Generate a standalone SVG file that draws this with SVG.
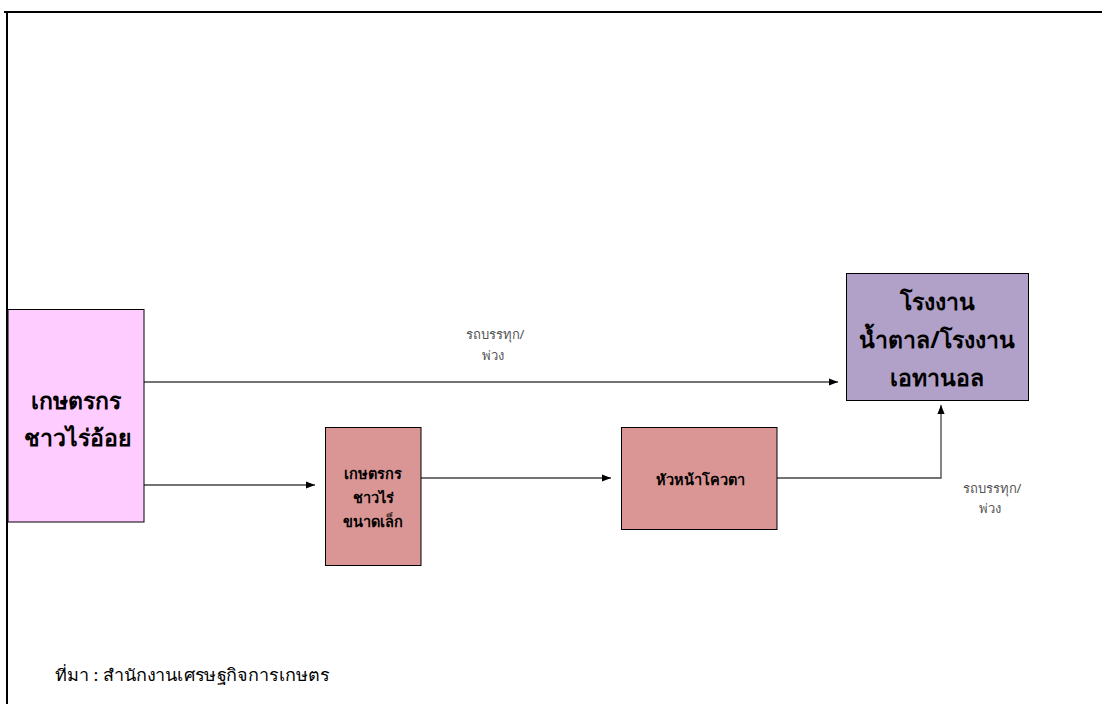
<svg xmlns="http://www.w3.org/2000/svg" width="1102" height="704" viewBox="0 0 1102 704">
<defs>
<marker id="ah" viewBox="0 0 10 10" refX="10" refY="5" markerWidth="9" markerHeight="9" markerUnits="userSpaceOnUse" orient="auto">
<path d="M0,1 L10,5 L0,9 Z" fill="#000"/>
</marker>
<style>
text{font-family:"Noto Sans","Liberation Sans",sans-serif;text-anchor:middle;fill:#000}
.big{font-size:23px;font-weight:bold}
.mid{font-size:14.5px;font-weight:bold}
.lbl{font-size:13px;fill:#555}
.box{stroke:#000;stroke-width:1}
.con{fill:none;stroke:#444;stroke-width:1.3;marker-end:url(#ah)}
</style>
</defs>
<rect width="1102" height="704" fill="#fff"/>
<path d="M4,12 H1102 M7,12 V704" stroke="#000" stroke-width="2" fill="none"/>
<g id="connectors">
<path class="con" d="M144,382 H838"/>
<path class="con" d="M144,485 H315"/>
<path class="con" d="M421,478 H611"/>
<path class="con" d="M777,478 H941 V405"/>
<text class="lbl" x="495" y="339">รถบรรทุก/</text>
<text class="lbl" x="493" y="360">พ่วง</text>
<text class="lbl" x="992" y="493">รถบรรทุก/</text>
<text class="lbl" x="990" y="513">พ่วง</text>
</g>
<g id="farmer">
<rect class="box" x="8" y="309.5" width="136" height="212.5" fill="#FFCCFF"/>
<text class="big" x="76" y="409">เกษตรกร</text>
<text class="big" x="77" y="446">ชาวไร่อ้อย</text>
</g>
<g id="small">
<rect class="box" x="325.5" y="427.5" width="95.5" height="138" fill="#DA9694"/>
<text class="mid" x="373" y="479">เกษตรกร</text>
<text class="mid" x="373" y="503">ชาวไร่</text>
<text class="mid" x="373" y="527">ขนาดเล็ก</text>
</g>
<g id="quota">
<rect class="box" x="621.5" y="427.5" width="155.5" height="102" fill="#DA9694"/>
<text class="mid" x="700" y="485">หัวหน้าโควตา</text>
</g>
<g id="mill">
<rect class="box" x="846.5" y="273.5" width="182" height="127" fill="#B1A0C7"/>
<text class="big" x="937" y="310">โรงงาน</text>
<text class="big" x="937" y="348">น้ำตาล/โรงงาน</text>
<text class="big" x="937" y="386">เอทานอล</text>
</g>
<text id="source" x="55" y="681" textLength="275" lengthAdjust="spacingAndGlyphs" style="font-size:16.5px;text-anchor:start;fill:#000">ที่มา : สำนักงานเศรษฐกิจการเกษตร</text>
</svg>
